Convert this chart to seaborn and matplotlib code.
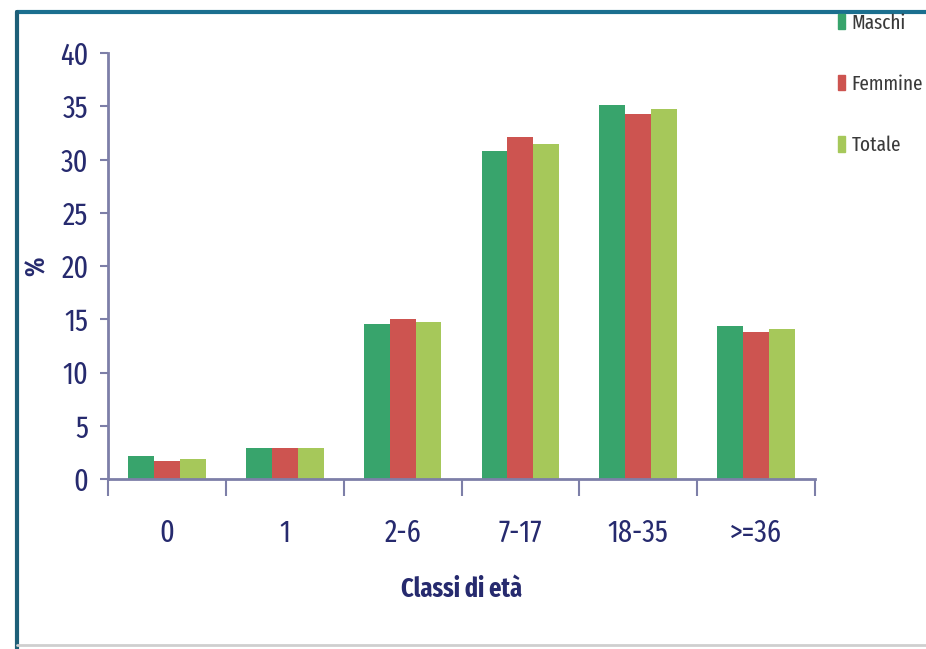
import pandas as pd
import numpy as np
import matplotlib.pyplot as plt
import seaborn as sns
from matplotlib.lines import Line2D

classi = ['0', '1', '2-6', '7-17', '18-35', '>=36']
maschi = [2.2, 2.9, 14.6, 30.8, 35.1, 14.4]
femmine = [1.7, 2.9, 15.0, 32.1, 34.3, 13.8]
totale = [1.9, 2.9, 14.7, 31.5, 34.7, 14.1]

gruppi = ['Maschi', 'Femmine', 'Totale']
colori = ['#38a46c', '#cd5450', '#a6c85a']

df = pd.DataFrame({
    'classe': classi * 3,
    'gruppo': np.repeat(gruppi, len(classi)),
    'valore': maschi + femmine + totale,
})

sns.set_style('white')
plt.rcParams['font.family'] = ['Fira Sans Extra Condensed', 'DejaVu Sans']

navy = '#262a6e'
axis_col = '#7d7fa8'

fig = plt.figure(figsize=(9.26, 6.49), dpi=100)
ax = fig.add_axes([108 / 926, 1 - 479 / 649, 707 / 926, 426 / 649])

sns.barplot(data=df, x='classe', y='valore', hue='gruppo', palette=colori,
            width=0.66, gap=0, saturation=1, linewidth=0, ax=ax, legend=False)

ax.set_ylim(0, 40)
ax.set_xlim(-0.5, len(classi) - 0.5)
ax.set_yticks(range(0, 41, 5))
ax.tick_params(axis='y', labelsize=22, labelcolor=navy, color=axis_col,
               length=6, width=1.5, direction='out', left=True, pad=8)

# category labels on minor ticks, boundary ticks as major
ax.set_xticks(np.arange(-0.5, len(classi)), labels=[''] * (len(classi) + 1))
ax.set_xticks(np.arange(len(classi)), labels=classi, minor=True)
ax.tick_params(axis='x', which='major', length=12, width=1.5, color=axis_col,
               direction='out', bottom=True)
ax.tick_params(axis='x', which='minor', length=0, labelsize=22,
               labelcolor=navy, pad=28)

for s in ['top', 'right']:
    ax.spines[s].set_visible(False)
for s in ['left', 'bottom']:
    ax.spines[s].set_color(axis_col)
    ax.spines[s].set_linewidth(2)

ax.set_xlabel('Classi di età', fontsize=19, fontweight='bold', color=navy)
ax.xaxis.set_label_coords(0.5, -0.228)
ax.set_ylabel('%', fontsize=19, fontweight='bold', color=navy)
ax.yaxis.set_label_coords(-0.082, 0.5)

handles = [plt.Rectangle((0, 0), 1, 1, color=c) for c in colori]
leg = fig.legend(handles, gruppi, loc='upper left', bbox_to_anchor=(834 / 926, 1 - 9 / 649),
                 frameon=False, fontsize=15, handlelength=0.35, handleheight=0.75,
                 handletextpad=0.3, labelspacing=2.0, borderaxespad=0, borderpad=0.2)
for t in leg.get_texts():
    t.set_color('#3a3a3a')

# frame of the original screenshot
fig.add_artist(Line2D([17 / 926, 1], [1 - 12 / 649] * 2, color='#1b6f8f', lw=3,
                      transform=fig.transFigure))
fig.add_artist(Line2D([17 / 926] * 2, [0, 1 - 12 / 649], color='#1d5f78', lw=3,
                      transform=fig.transFigure))
fig.add_artist(Line2D([17 / 926, 1], [1 - 645 / 649] * 2, color='#cfcfcf', lw=2,
                      transform=fig.transFigure))

fig.savefig('out.png', dpi=100)
